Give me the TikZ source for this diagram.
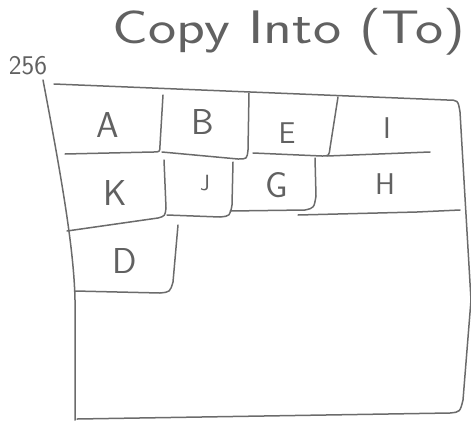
\documentclass[tikz,border=0pt]{standalone}
\usetikzlibrary{positioning}

\begin{document}
\begin{tikzpicture}[
    x=1pt, y=-1pt,
    pencil/.style={draw=black!58, line width=1.5pt, line cap=round, line join=round},
    cell/.style={text=black!62, font=\sffamily\fontsize{36}{36}\selectfont, inner sep=0pt},
    smallcell/.style={cell, font=\sffamily\fontsize{30}{30}\selectfont},
    title/.style={text=black!62, font=\sffamily\fontsize{47}{47}\selectfont, inner sep=0pt},
]
\useasboundingbox (0,0) rectangle (471,421);

% Title and size mark
\node[title, anchor=base] (title) at (289,43) {\scalebox{1.27}[1]{Copy Into (To)}};
\node[text=black!62, font=\sffamily\fontsize{27}{27}\selectfont, inner sep=0pt] (size) at (28,66) {256};

% Outer region
\draw[pencil] (43,80) .. controls (62,180) and (74,250) .. (75,300) -- (75,420);
\draw[pencil] (54,84) -- (447,100) .. controls (458,100) .. (460,112)
    -- (471,300) -- (463,400) .. controls (460,412) .. (450,413) -- (77,419);

% First row
\draw[pencil] (65,154) -- (153,152) .. controls (160,152) .. (160,145) -- (163,95);
\draw[pencil] (162,152) -- (238,159) .. controls (247,159) .. (248,150) -- (249,93);
\draw[pencil] (253,153) -- (322,156) .. controls (329,156) .. (330,148) -- (338,97);
\draw[pencil] (327,156) -- (430,152);

% Second row
\draw[pencil] (67,231) -- (158,218) .. controls (165,216) .. (166,208) -- (164,160);
\draw[pencil] (167,215) -- (220,217) .. controls (230,216) .. (232,205) -- (233,162);
\draw[pencil] (230,211) -- (305,210) .. controls (314,208) .. (316,196) -- (315,158);
\draw[pencil] (298,215) -- (417,212) -- (460,210);

% Third row
\draw[pencil] (75,291) -- (160,293) .. controls (170,292) .. (173,282) -- (178,225);

% Labels
\node[cell] (cellA) at (108,125) {A};
\node[cell] (cellB) at (203,122) {B};
\node[smallcell] (cellE) at (287,133) {E};
\node[smallcell] (cellI) at (387,128) {I};
\node[cell] (cellK) at (115,193) {K};
\node[cell, font=\sffamily\fontsize{22}{22}\selectfont] (cellJ) at (205,183) {J};
\node[cell] (cellG) at (277,185) {G};
\node[smallcell] (cellH) at (385,184) {H};
\node[cell] (cellD) at (125,261) {D};

\end{tikzpicture}
\end{document}
